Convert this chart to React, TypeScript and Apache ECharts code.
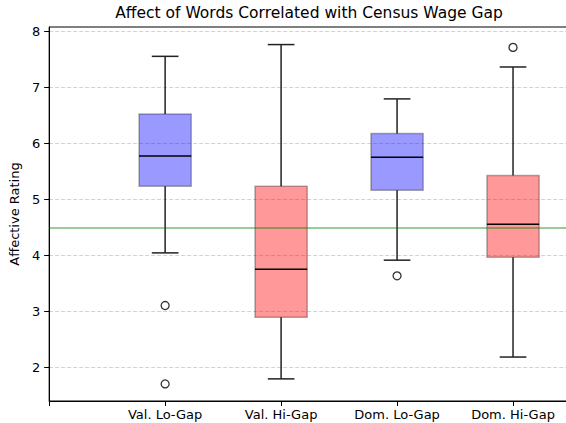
import React, { useEffect, useRef } from "react";
import * as echarts from "echarts";

const categories = ["Val. Lo-Gap", "Val. Hi-Gap", "Dom. Lo-Gap", "Dom. Hi-Gap"];
const lowWhisker = [4.05, 1.8, 3.92, 2.19];
const q1 = [5.24, 2.9, 5.17, 3.97];
const median = [5.78, 3.76, 5.76, 4.56];
const q3 = [6.53, 5.24, 6.18, 5.43];
const highWhisker = [7.56, 7.77, 6.8, 7.37];
const outlierGroup = [0, 0, 2, 3];
const outlierValue = [3.11, 1.71, 3.64, 7.72];
const referenceLevel = 4.5;
const yTicks = [2, 3, 4, 5, 6, 7, 8];

const boxFills = ["rgba(0,0,255,0.4)", "rgba(255,0,0,0.4)", "rgba(0,0,255,0.4)", "rgba(255,0,0,0.4)"];

export default function App() {
  const ref = useRef<HTMLDivElement>(null);
  useEffect(() => {
    document.body.style.margin = "0";
    const chart = echarts.init(ref.current!, null, { renderer: "svg" });
    const axisData = ["", ...categories, ""];
    const boxData = categories.map((_, i) => [i + 1, lowWhisker[i], q1[i], median[i], q3[i], highWhisker[i]]);
    const outData = outlierGroup.map((g, i) => [g + 1, outlierValue[i]]);
    const font = "DejaVu Sans";
    chart.setOption({
      animation: false,
      title: {
        text: "Affect of Words Correlated with Census Wage Gap",
        left: 309,
        textAlign: "center",
        top: 5,
        padding: 0,
        textStyle: { fontFamily: font, fontSize: 15.5, fontWeight: "normal", color: "#000" },
      },
      grid: {
        left: 47,
        right: 0,
        top: 27,
        bottom: 22,
        show: true,
        borderColor: "#000",
        borderWidth: 1,
        backgroundColor: "transparent",
      },
      xAxis: {
        type: "category",
        data: axisData,
        boundaryGap: false,
        axisLine: { lineStyle: { color: "#000", width: 1 } },
        axisTick: { show: true, length: 5, lineStyle: { color: "#000" } },
        axisLabel: { interval: 0, margin: 7, color: "#000", fontFamily: font, fontSize: 13 },
        splitLine: { show: false },
      },
      yAxis: {
        type: "value",
        min: 1.405,
        max: 8.084,
        name: "Affective Rating",
        nameLocation: "middle",
        nameGap: 17,
        nameTextStyle: { fontFamily: font, fontSize: 13, color: "#000" },
        axisLine: { show: true, lineStyle: { color: "#000", width: 1 } },
        axisTick: { show: true, length: 5, customValues: yTicks, lineStyle: { color: "#000" } },
        axisLabel: { customValues: yTicks, margin: 9, color: "#000", fontFamily: font, fontSize: 13 },
        splitLine: { show: true, lineStyle: { color: "#c8c8c8", type: [4, 2], width: 0.8 } },
      },
      series: [
        {
          type: "line",
          data: [],
          silent: true,
          z: 1,
          markLine: {
            symbol: "none",
            silent: true,
            label: { show: false },
            lineStyle: { color: "rgba(0,128,0,0.4)", width: 2, type: "solid" },
            data: [{ yAxis: referenceLevel }],
          },
        },
        {
          type: "custom",
          z: 3,
          data: boxData,
          renderItem: (params: any, api: any) => {
            const x = api.value(0);
            const pLow = api.coord([x, api.value(1)]);
            const pQ1 = api.coord([x, api.value(2)]);
            const pMed = api.coord([x, api.value(3)]);
            const pQ3 = api.coord([x, api.value(4)]);
            const pHigh = api.coord([x, api.value(5)]);
            const band = api.size([1, 0])[0];
            const bw = band * 0.45;
            const cw = band * 0.23;
            const cx = pMed[0];
            const whisker = { stroke: "#222", lineWidth: 1.5 };
            return {
              type: "group",
              children: [
                { type: "line", shape: { x1: cx, y1: pLow[1], x2: cx, y2: pQ1[1] }, style: whisker },
                { type: "line", shape: { x1: cx, y1: pQ3[1], x2: cx, y2: pHigh[1] }, style: whisker },
                { type: "line", shape: { x1: cx - cw / 2, y1: pLow[1], x2: cx + cw / 2, y2: pLow[1] }, style: whisker },
                { type: "line", shape: { x1: cx - cw / 2, y1: pHigh[1], x2: cx + cw / 2, y2: pHigh[1] }, style: whisker },
                {
                  type: "rect",
                  shape: { x: cx - bw / 2, y: pQ3[1], width: bw, height: pQ1[1] - pQ3[1] },
                  style: { fill: boxFills[params.dataIndex], stroke: "rgba(0,0,0,0.3)", lineWidth: 1.5 },
                },
                { type: "line", shape: { x1: cx - bw / 2, y1: pMed[1], x2: cx + bw / 2, y2: pMed[1] }, style: { stroke: "#000", lineWidth: 1.5 } },
              ],
            };
          },
        },
        {
          type: "scatter",
          z: 4,
          data: outData,
          symbol: "circle",
          symbolSize: 8,
          itemStyle: { color: "#fff", borderColor: "#000", borderWidth: 1.3 },
        },
      ],
    });
    return () => chart.dispose();
  }, []);
  return (
    <div style={{ width: 566, height: 423, overflow: "hidden", position: "relative" }}>
      <div ref={ref} style={{ width: 632, height: 423 }} />
    </div>
  );
}
